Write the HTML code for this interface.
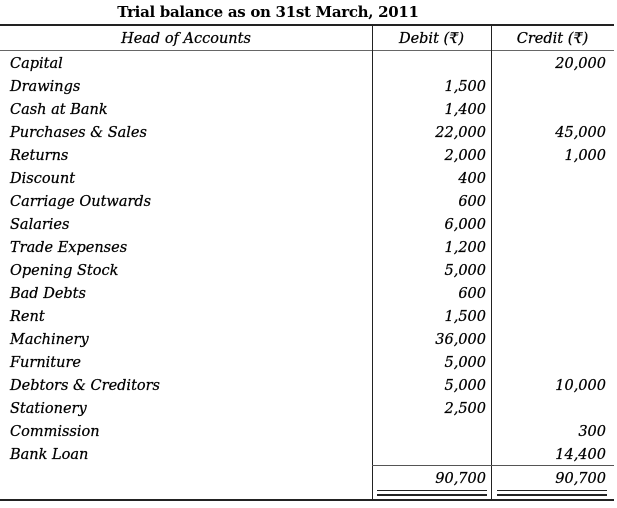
<!DOCTYPE html>
<html><head><style>
body{margin:0;width:617px;height:508px;background:#fff;position:relative;overflow:hidden;font-family:"DejaVu Serif",serif;color:#000}
.t{position:absolute;font-style:italic;font-size:14.5px;line-height:20px;white-space:nowrap;-webkit-text-stroke:0.25px #000}
.l{left:10px}
.d{right:131px;text-align:right}
.c{right:11px;text-align:right}
.h{position:absolute;background:#222}
</style></head><body>
<div style="position:absolute;left:0;width:536px;top:3px;text-align:center;font-weight:bold;font-size:15px;letter-spacing:-0.3px">Trial balance as on 31st March, 2011</div>
<div class="h" style="left:0;top:24px;width:614px;height:2px"></div>
<div class="h" style="left:0;top:50px;width:614px;height:1px;background:#666"></div>
<div class="h" style="left:372px;top:26px;width:1px;height:474px"></div>
<div class="h" style="left:491px;top:26px;width:1px;height:474px"></div>
<div class="t" style="left:0;width:372px;text-align:center;top:29px">Head of Accounts</div>
<div class="t" style="left:372px;width:119px;text-align:center;top:29px">Debit (₹)</div>
<div class="t" style="left:491px;width:123px;text-align:center;top:29px">Credit (₹)</div>

<div class="t l" style="top:54px">Capital</div><div class="t c" style="top:54px">20,000</div>
<div class="t l" style="top:77px">Drawings</div><div class="t d" style="top:77px">1,500</div>
<div class="t l" style="top:100px">Cash at Bank</div><div class="t d" style="top:100px">1,400</div>
<div class="t l" style="top:123px">Purchases &amp; Sales</div><div class="t d" style="top:123px">22,000</div><div class="t c" style="top:123px">45,000</div>
<div class="t l" style="top:146px">Returns</div><div class="t d" style="top:146px">2,000</div><div class="t c" style="top:146px">1,000</div>
<div class="t l" style="top:169px">Discount</div><div class="t d" style="top:169px">400</div>
<div class="t l" style="top:192px">Carriage Outwards</div><div class="t d" style="top:192px">600</div>
<div class="t l" style="top:215px">Salaries</div><div class="t d" style="top:215px">6,000</div>
<div class="t l" style="top:238px">Trade Expenses</div><div class="t d" style="top:238px">1,200</div>
<div class="t l" style="top:261px">Opening Stock</div><div class="t d" style="top:261px">5,000</div>
<div class="t l" style="top:284px">Bad Debts</div><div class="t d" style="top:284px">600</div>
<div class="t l" style="top:307px">Rent</div><div class="t d" style="top:307px">1,500</div>
<div class="t l" style="top:330px">Machinery</div><div class="t d" style="top:330px">36,000</div>
<div class="t l" style="top:353px">Furniture</div><div class="t d" style="top:353px">5,000</div>
<div class="t l" style="top:376px">Debtors &amp; Creditors</div><div class="t d" style="top:376px">5,000</div><div class="t c" style="top:376px">10,000</div>
<div class="t l" style="top:399px">Stationery</div><div class="t d" style="top:399px">2,500</div>
<div class="t l" style="top:422px">Commission</div><div class="t c" style="top:422px">300</div>
<div class="t l" style="top:445px">Bank Loan</div><div class="t c" style="top:445px">14,400</div>

<div class="h" style="left:372px;top:465px;width:242px;height:1px;background:#555"></div>
<div class="t d" style="top:469px">90,700</div><div class="t c" style="top:469px">90,700</div>
<div class="h" style="left:377px;top:490px;width:110px;height:1px"></div>
<div class="h" style="left:377px;top:494px;width:110px;height:2px"></div>
<div class="h" style="left:497px;top:490px;width:110px;height:1px"></div>
<div class="h" style="left:497px;top:494px;width:110px;height:2px"></div>
<div class="h" style="left:0;top:499px;width:614px;height:2px"></div>
</body></html>
